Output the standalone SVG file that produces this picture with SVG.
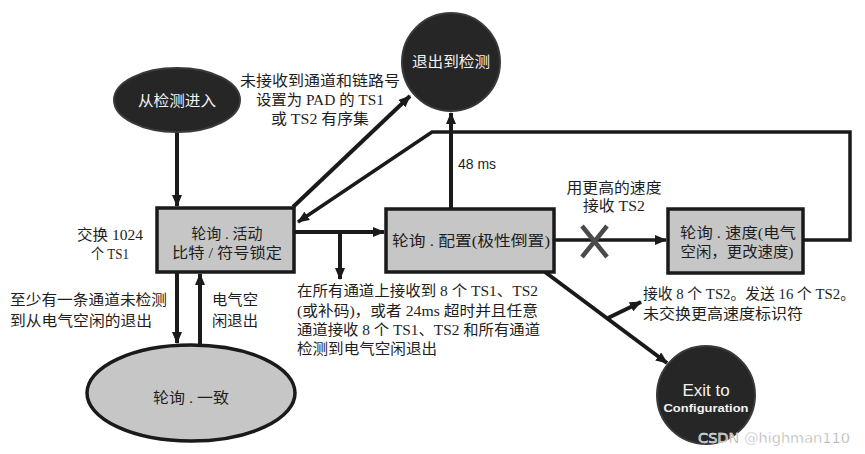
<svg xmlns="http://www.w3.org/2000/svg" width="865" height="454" viewBox="0 0 865 454">
<style>
.t{font-family:"Liberation Serif","Noto Sans CJK SC",serif;font-size:15px;fill:#1e1e1e}
.c{text-anchor:middle}
.w{fill:#f2f2f2}
.box{fill:#c6c6c6;stroke:#1a1a1a;stroke-width:3.5}
.dark{fill:#262626;stroke:#3a3a3a;stroke-width:2}
.ln{fill:none;stroke:#1a1a1a;stroke-width:4}
.thin{fill:none;stroke:#1a1a1a;stroke-width:3.5}
</style>
<defs>
<marker id="ah" markerUnits="userSpaceOnUse" markerWidth="12" markerHeight="10" refX="11" refY="5" orient="auto">
<path d="M0,0 L12,5 L0,10 z" fill="#1a1a1a"/>
</marker>
</defs>
<rect width="865" height="454" fill="#ffffff"/>
<g id="connectors">
<path class="ln" d="M177,132 V206" marker-end="url(#ah)"/>
<path class="ln" d="M293,207 L410,96" marker-end="url(#ah)"/>
<path class="thin" d="M803,240 H850 V132 H432 L298,222" marker-end="url(#ah)"/>
<path class="ln" d="M451,208 V113" marker-end="url(#ah)"/>
<path class="ln" d="M295,232 H384" marker-end="url(#ah)"/>
<path class="ln" d="M340,232 V279" marker-end="url(#ah)"/>
<path class="thin" d="M554,240 H666" marker-end="url(#ah)"/>
<path class="ln" d="M545,272 L667,363" marker-end="url(#ah)"/>
<path class="ln" d="M608,318 L641,302" marker-end="url(#ah)"/>
<path class="ln" d="M177,272 V343" marker-end="url(#ah)"/>
<path class="ln" d="M200,345 V274" marker-end="url(#ah)"/>
<path d="M582,226 L607,257 M607,226 L582,257" stroke="#4a4a4a" stroke-width="4.5" fill="none"/>
</g>
<g id="enter">
<ellipse class="dark" cx="177" cy="100" rx="63" ry="32"/>
<text class="t c w" x="177" y="106" textLength="78" lengthAdjust="spacingAndGlyphs">从检测进入</text>
</g>
<g id="exit-detect">
<circle class="dark" cx="451" cy="62" r="49"/>
<text class="t c w" x="451" y="67" textLength="78" lengthAdjust="spacingAndGlyphs">退出到检测</text>
</g>
<g id="active">
<rect class="box" x="157" y="208" width="137" height="64"/>
<text class="t c" x="227" y="239">轮询 . 活动</text>
<text class="t c" x="227" y="258" textLength="110" lengthAdjust="spacingAndGlyphs">比特 / 符号锁定</text>
</g>
<g id="config">
<rect class="box" x="386" y="209" width="168" height="63"/>
<text class="t c" x="471" y="246" textLength="158" lengthAdjust="spacingAndGlyphs">轮询 . 配置(极性倒置)</text>
</g>
<g id="speed">
<rect class="box" x="668" y="209" width="135" height="64"/>
<text class="t c" x="738" y="238" textLength="116" lengthAdjust="spacingAndGlyphs">轮询 . 速度(电气</text>
<text class="t c" x="737" y="257" textLength="113" lengthAdjust="spacingAndGlyphs">空闲，更改速度)</text>
</g>
<g id="compliance">
<ellipse class="box" cx="191" cy="393" rx="104" ry="48"/>
<text class="t c" x="191" y="403" textLength="76" lengthAdjust="spacingAndGlyphs">轮询 . 一致</text>
</g>
<g id="exit-config">
<circle class="dark" cx="706" cy="395" r="49"/>
<text x="706" y="396" text-anchor="middle" font-family="Liberation Sans, Arial, sans-serif" font-size="17" fill="#f2f2f2">Exit to</text>
<text x="706" y="412" text-anchor="middle" font-family="Liberation Sans, Arial, sans-serif" font-size="11.5" font-weight="bold" fill="#f2f2f2" textLength="85" lengthAdjust="spacingAndGlyphs">Configuration</text>
</g>
<g id="labels">
<text class="t c" x="320" y="86" textLength="160" lengthAdjust="spacingAndGlyphs">未接收到通道和链路号</text>
<text class="t c" x="320" y="105" textLength="128" lengthAdjust="spacingAndGlyphs">设置为 PAD 的 TS1</text>
<text class="t c" x="320" y="124" textLength="98" lengthAdjust="spacingAndGlyphs">或 TS2 有序集</text>
<text x="458" y="169" font-family="Liberation Sans, Arial, sans-serif" font-size="14" fill="#1e1e1e">48 ms</text>
<text class="t c" x="614" y="193" textLength="95" lengthAdjust="spacingAndGlyphs">用更高的速度</text>
<text class="t c" x="614" y="211" textLength="62" lengthAdjust="spacingAndGlyphs">接收 TS2</text>
<text class="t c" x="110" y="240" textLength="66" lengthAdjust="spacingAndGlyphs">交换 1024</text>
<text class="t c" x="110" y="259" textLength="38" lengthAdjust="spacingAndGlyphs">个 TS1</text>
<text class="t" x="10" y="305" textLength="157" lengthAdjust="spacingAndGlyphs">至少有一条通道未检测</text>
<text class="t" x="10" y="326" textLength="142" lengthAdjust="spacingAndGlyphs">到从电气空闲的退出</text>
<text class="t" x="212" y="305" textLength="46" lengthAdjust="spacingAndGlyphs">电气空</text>
<text class="t" x="212" y="326" textLength="46" lengthAdjust="spacingAndGlyphs">闲退出</text>
<text class="t" x="297" y="296" textLength="241" lengthAdjust="spacingAndGlyphs">在所有通道上接收到 8 个 TS1、TS2</text>
<text class="t" x="297" y="316" textLength="241" lengthAdjust="spacingAndGlyphs">(或补码)，或者 24ms 超时并且任意</text>
<text class="t" x="297" y="335" textLength="243" lengthAdjust="spacingAndGlyphs">通道接收 8 个 TS1、TS2 和所有通道</text>
<text class="t" x="297" y="354" textLength="140" lengthAdjust="spacingAndGlyphs">检测到电气空闲退出</text>
<text class="t" x="643" y="299" textLength="212" lengthAdjust="spacingAndGlyphs">接收 8 个 TS2。发送 16 个 TS2。</text>
<text class="t" x="643" y="319" textLength="160" lengthAdjust="spacingAndGlyphs">未交换更高速度标识符</text>
<text x="698" y="443" font-family="DejaVu Sans, sans-serif" font-size="14" fill="#9a9a9a" stroke="#ffffff" stroke-width="0.5" textLength="152" lengthAdjust="spacingAndGlyphs">CSDN @highman110</text>
</g>
</svg>
